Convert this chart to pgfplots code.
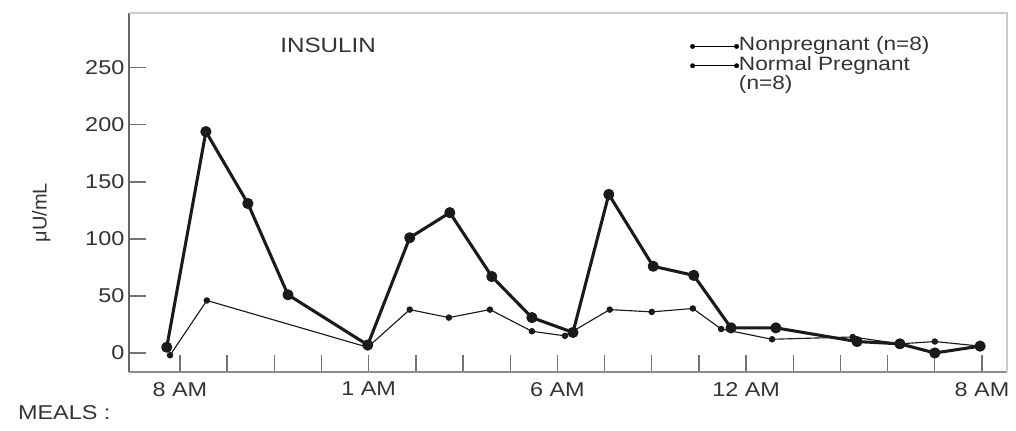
\documentclass[border=0pt]{standalone}
\usepackage{pgfplots}
\pgfplotsset{compat=1.18}
\usepackage{fontspec}
\setmainfont{Liberation Sans}[FakeStretch=1.17]
\newfontfamily\plainfont{Liberation Sans}
\definecolor{txt}{HTML}{333333}
\definecolor{ln}{HTML}{1A1A1A}
\pgfplotsset{dotline/.style={legend image code/.code={\draw[black, line width=0.75pt] (2pt,0pt) -- (35pt,0pt);
    \fill[black] (2pt,0pt) circle (1.6pt);
    \fill[black] (35pt,0pt) circle (1.6pt);}}}
\begin{document}
\begin{tikzpicture}[x=1pt,y=1pt]
\useasboundingbox (0,0) rectangle (762,322.5);
\begin{axis}[
  at={(96.75pt,43.5pt)}, anchor=south west,
  scale only axis, width=658.5pt, height=269.25pt,
  xmin=-1.08, xmax=17.53, ymin=-16.7, ymax=298,
  axis lines=left,
  axis line style={-, line width=1.1pt},
  x axis line style={draw=black!45},
  y axis line style={draw=black!60},
  tick align=inside,
  major tick length=12.5pt,
  tick style={black!55, line width=1pt},
  xtick={0,...,17},
  xticklabels={8 AM,,,,1 AM,,,,6 AM,,,,12 AM,,,,,8 AM},
  xticklabel style={yshift=-4pt},
  ytick={0,50,100,150,200,250},
  ticklabel style={font=\fontsize{15}{18}\selectfont, text=txt},
  /pgf/number format/assume math mode=true,
  clip=false,
  legend cell align=left,
  legend style={draw=none, fill=none, at={(rel axis cs:0.634,0.942)}, anchor=north west,
    font=\fontsize{14.5}{17}\selectfont, text=txt, row sep=0pt,
    nodes={inner sep=0pt, text height=10.5pt, text depth=4pt}},
]
\addplot[ln, line width=2.3pt, line join=round, mark=*, mark size=3pt, mark options={solid}, forget plot] coordinates {
(-0.28,5) (0.55,194) (1.44,131) (2.29,51) (3.98,7) (4.87,101) (5.72,123) (6.61,67)
(7.46,31) (8.33,18) (9.09,139) (10.03,76) (10.89,68) (11.68,22) (12.63,22)
(14.35,10) (15.26,8) (16.00,0) (16.96,6)};
\addplot[ln, line width=0.85pt, line join=round, mark=*, mark size=2pt, mark options={solid}, forget plot] coordinates {
(-0.21,-2) (0.57,46) (3.98,5) (4.87,38) (5.70,31) (6.57,38) (7.46,19) (8.16,15)
(9.11,38) (10.00,36) (10.87,39) (11.47,21) (12.55,12) (14.26,14) (15.26,8)
(16.00,10) (16.96,6)};
\addlegendimage{dotline}
\addlegendentry{Nonpregnant (n=8)}
\addlegendimage{dotline}
\addlegendentry{Normal Pregnant}
\addlegendimage{empty legend}
\addlegendentry{(n=8)}
\node[font=\fontsize{15.5}{18}\selectfont, text=txt] at (axis cs:3.14,270) {INSULIN};
\draw[black!20, line width=0.8pt] (rel axis cs:0,1) -- (rel axis cs:1,1) -- (rel axis cs:1,0);
\pgfplotsinvokeforeach{0,50,100,150,200,250}{
  \draw[black!55, line width=1pt] (axis cs:17.53,#1) ++(-3pt,0) -- ++(10pt,0);
}
\end{axis}
\node[anchor=west, font=\fontsize{15}{18}\selectfont, text=txt] at (10,13) {MEALS :};
\node[rotate=90, font=\plainfont\fontsize{15}{18}\selectfont, text=txt] at (31,163) {μU/mL};
\end{tikzpicture}
\end{document}
